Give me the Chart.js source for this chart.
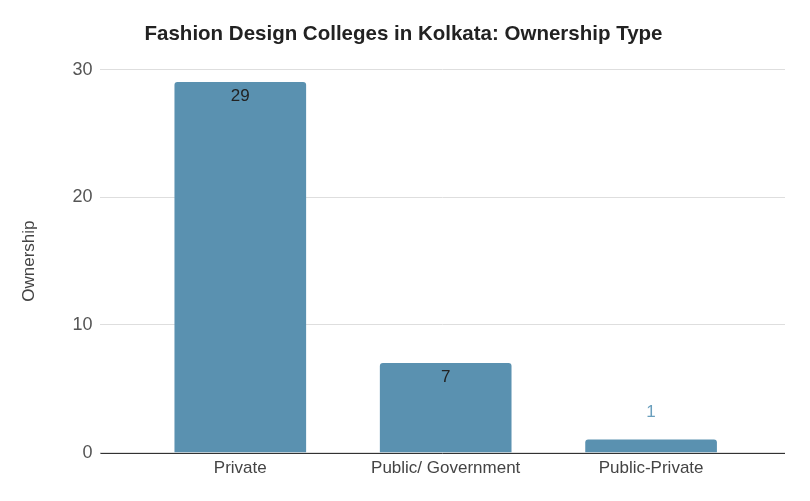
<!DOCTYPE html>
<html><head><meta charset="utf-8">
<script src="https://cdn.jsdelivr.net/npm/chart.js@4"></script>
<style>html,body{margin:0;padding:0;background:#fff;}#wrap{width:810px;height:501px;}</style>
</head><body><div id="wrap"><canvas id="c" width="810" height="501"></canvas></div>
<script>
const categories = ["Private", "Public/ Government", "Public-Private"];
const ownershipValues = [29, 7, 1];
const yTicks = [0, 10, 20, 30];

const barColor = '#5a91b0';
const FONT = '"Liberation Sans", Arial, sans-serif';

const labelPlugin = {
  id: 'valueLabels',
  afterDatasetsDraw(chart) {
    const ctx = chart.ctx;
    const meta = chart.getDatasetMeta(0);
    ctx.save();
    ctx.font = '17px ' + FONT;
    ctx.textAlign = 'center';
    ctx.textBaseline = 'middle';
    meta.data.forEach((bar, i) => {
      const v = ownershipValues[i];
      const h = bar.base - bar.y;
      if (h > 30) {
        ctx.fillStyle = '#222';
        ctx.fillText(String(v), bar.x, bar.y + 14);
      } else {
        ctx.fillStyle = '#6a9fbd';
        ctx.fillText(String(v), bar.x, bar.y - 28);
      }
    });
    ctx.restore();
  }
};

const baselinePlugin = {
  id: 'baseline',
  afterDatasetsDraw(chart) {
    const y = chart.scales.y.getPixelForValue(0);
    const ctx = chart.ctx;
    ctx.save();
    ctx.strokeStyle = '#333';
    ctx.lineWidth = 1;
    ctx.beginPath();
    ctx.moveTo(chart.chartArea.left, Math.round(y) + 0.5);
    ctx.lineTo(chart.chartArea.right, Math.round(y) + 0.5);
    ctx.stroke();
    ctx.restore();
  }
};

new Chart(document.getElementById('c'), {
  type: 'bar',
  data: {
    datasets: [{
      label: 'Ownership',
      data: ownershipValues.map((v, i) => ({ x: i, y: v })),
      backgroundColor: barColor,
      borderWidth: 0,
      borderRadius: 3,
      borderSkipped: 'bottom',
      barThickness: 131
    }]
  },
  options: {
    responsive: false,
    animation: false,
    devicePixelRatio: 1,
    layout: { padding: { left: 22, right: 25, top: 0, bottom: 16 } },
    plugins: {
      legend: { display: false },
      tooltip: { enabled: false },
      title: {
        display: true,
        text: 'Fashion Design Colleges in Kolkata: Ownership Type',
        color: '#222',
        font: { family: FONT, size: 20.5, weight: 'bold' },
        padding: { top: 22, bottom: 23 }
      }
    },
    scales: {
      x: {
        type: 'linear',
        offset: false,
        bounds: 'data',
        min: -0.681,
        max: 2.652,
        grid: { display: false, drawTicks: false },
        border: { display: false },
        afterBuildTicks(scale) { scale.ticks = categories.map((_, i) => ({ value: i })); },
        ticks: {
          color: '#444',
          padding: 6,
          font: { family: FONT, size: 17 },
          callback: (v) => categories[v] ?? ''
        }
      },
      y: {
        min: 0,
        max: 30,
        afterBuildTicks(scale) { scale.ticks = yTicks.map(v => ({ value: v })); },
        grid: { color: '#dedede', drawTicks: false },
        border: { display: false },
        ticks: {
          color: '#555',
          padding: 8,
          font: { family: FONT, size: 18 }
        },
        title: {
          display: true,
          text: 'Ownership',
          color: '#444',
          font: { family: FONT, size: 17 },
          padding: { top: -3, bottom: 25 }
        }
      }
    }
  },
  plugins: [labelPlugin, baselinePlugin]
});
</script></body></html>
